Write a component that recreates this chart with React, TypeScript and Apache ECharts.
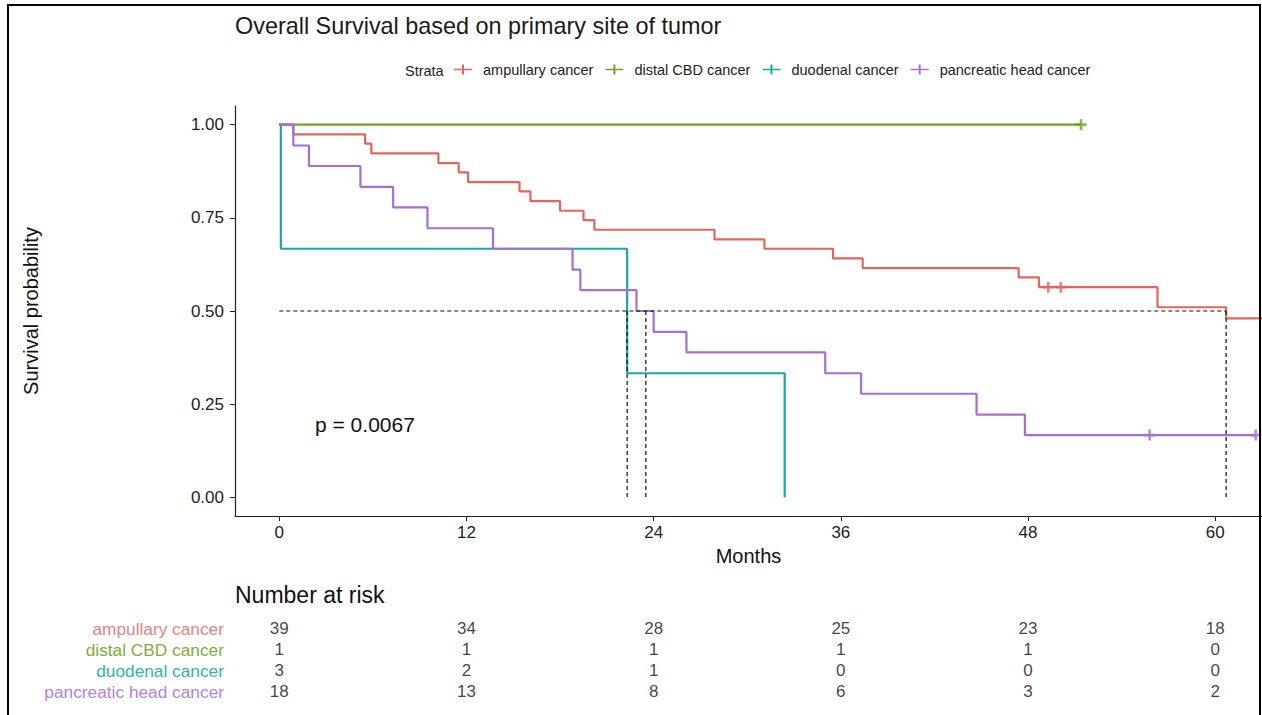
import React, { useEffect, useRef } from "react";
import * as echarts from "echarts";

const FONT = "'Liberation Sans', Arial, sans-serif";

const strataNames = ["ampullary cancer", "distal CBD cancer", "duodenal cancer", "pancreatic head cancer"];
const lineColors = ["#E4655C", "#6FA22A", "#1AA8A5", "#A66FD0"];
const labelColors = ["#E3857C", "#83AC3C", "#33B2AF", "#B483DA"];

// Kaplan-Meier step points (time in months, survival probability)
const ampullaryTimes = [0, 0.9, 5.5, 5.9, 10.2, 11.5, 12.1, 15.4, 16.1, 18.0, 19.5, 20.2, 27.9, 31.1, 35.5, 37.4, 47.4, 48.7, 56.3, 60.7, 63.0];
const ampullarySurv = [1, 0.974, 0.949, 0.923, 0.897, 0.872, 0.846, 0.821, 0.795, 0.769, 0.744, 0.718, 0.692, 0.667, 0.641, 0.615, 0.59, 0.564, 0.51, 0.48, 0.48];
const distalTimes = [0, 51.4];
const distalSurv = [1, 1];
const duodenalTimes = [0, 0.1, 22.3, 32.4];
const duodenalSurv = [1, 0.667, 0.333, 0];
const pancreaticTimes = [0, 0.9, 1.9, 5.2, 7.3, 9.5, 13.7, 18.8, 19.3, 22.9, 24.0, 26.1, 35.0, 37.3, 44.7, 47.8, 62.6];
const pancreaticSurv = [1, 0.944, 0.889, 0.833, 0.778, 0.722, 0.667, 0.611, 0.556, 0.5, 0.444, 0.389, 0.333, 0.278, 0.222, 0.167, 0.167];

// censoring marks
const ampullaryCensorTimes = [49.3, 50.1];
const ampullaryCensorSurv = [0.564, 0.564];
const distalCensorTimes = [51.4];
const distalCensorSurv = [1];
const duodenalCensorTimes: number[] = [];
const duodenalCensorSurv: number[] = [];
const pancreaticCensorTimes = [55.8, 62.6];
const pancreaticCensorSurv = [0.167, 0.167];

// median survival times
const medianTimes = [22.3, 23.5, 60.7];
const medianLevel = 0.5;

// number at risk
const riskTimes = [0, 12, 24, 36, 48, 60];
const ampullaryRisk = [39, 34, 28, 25, 23, 18];
const distalRisk = [1, 1, 1, 1, 1, 0];
const duodenalRisk = [3, 2, 1, 0, 0, 0];
const pancreaticRisk = [18, 13, 8, 6, 3, 2];

const xTicks = [0, 12, 24, 36, 48, 60];
const yTicks = [0, 0.25, 0.5, 0.75, 1];
const pValueText = "p = 0.0067";

const X_MIN = -2.84;
const X_MAX = 63.0;

const PLUS = "path://M0,3.8h10v2.4h-10z M3.8,0h2.4v10h-2.4z";
const LEGEND_ICON = "path://M0,4.2h18v1.6h-18z M8,0h2v10h-2z";

export default function App() {
  const ref = useRef<HTMLDivElement>(null);

  useEffect(() => {
    if (!ref.current) return;
    const chart = echarts.init(ref.current, undefined, { renderer: "svg" });

    const timesAll = [ampullaryTimes, distalTimes, duodenalTimes, pancreaticTimes];
    const survAll = [ampullarySurv, distalSurv, duodenalSurv, pancreaticSurv];
    const cTimesAll = [ampullaryCensorTimes, distalCensorTimes, duodenalCensorTimes, pancreaticCensorTimes];
    const cSurvAll = [ampullaryCensorSurv, distalCensorSurv, duodenalCensorSurv, pancreaticCensorSurv];
    const riskAll = [ampullaryRisk, distalRisk, duodenalRisk, pancreaticRisk];

    const series: any[] = [];
    strataNames.forEach((name, i) => {
      series.push({
        name,
        type: "line",
        step: "end",
        xAxisIndex: 0,
        yAxisIndex: 0,
        showSymbol: false,
        color: lineColors[i],
        lineStyle: { width: 2.2, color: lineColors[i] },
        data: timesAll[i].map((t, j) => [t, survAll[i][j]]),
        z: 3 + i,
      });
      if (cTimesAll[i].length) {
        series.push({
          name,
          type: "scatter",
          xAxisIndex: 0,
          yAxisIndex: 0,
          symbol: PLUS,
          symbolSize: 11,
          color: lineColors[i],
          itemStyle: { color: lineColors[i] },
          data: cTimesAll[i].map((t, j) => [t, cSurvAll[i][j]]),
          z: 3 + i,
        });
      }
    });

    const dashed = { type: [4, 3], color: "#111", width: 1.2 };
    series.push({
      type: "line",
      xAxisIndex: 0,
      yAxisIndex: 0,
      showSymbol: false,
      lineStyle: dashed,
      data: [[0, medianLevel], [Math.max(...medianTimes), medianLevel]],
      z: 10,
      silent: true,
    });
    medianTimes.forEach((t) => {
      series.push({
        type: "line",
        xAxisIndex: 0,
        yAxisIndex: 0,
        showSymbol: false,
        lineStyle: dashed,
        data: [[t, medianLevel], [t, 0]],
        z: 10,
        silent: true,
      });
    });

    // risk table
    strataNames.forEach((name, i) => {
      series.push({
        type: "scatter",
        xAxisIndex: 1,
        yAxisIndex: 1,
        symbolSize: 1,
        itemStyle: { color: "rgba(0,0,0,0)" },
        silent: true,
        label: {
          show: true,
          position: "inside",
          formatter: (p: any) => String(p.value[2]),
          color: "#111",
          fontSize: 17,
          fontFamily: FONT,
        },
        data: riskTimes.map((t, j) => [t, name, riskAll[i][j]]),
      });
    });

    const rich: any = {};
    strataNames.forEach((_n, i) => {
      rich["c" + i] = { color: labelColors[i], fontSize: 17.3, fontFamily: FONT };
    });

    chart.setOption({
      animation: false,
      backgroundColor: "#fff",
      textStyle: { fontFamily: FONT },
      title: {
        text: "Overall Survival based on primary site of tumor",
        left: 235,
        top: 14,
        padding: 0,
        textStyle: { fontSize: 23.4, fontWeight: "normal", color: "#1a1a1a", fontFamily: FONT },
      },
      legend: {
        left: 454,
        top: 62,
        padding: 0,
        data: strataNames,
        icon: LEGEND_ICON,
        itemWidth: 18,
        itemHeight: 10,
        itemGap: 12,
        textStyle: { fontSize: 14.5, color: "#222", fontFamily: FONT, padding: [0, 0, 0, 6] },
        selectedMode: false,
      },
      grid: [
        { left: 235, right: 0, top: 106, bottom: 199 },
        { left: 235, right: 0, top: 618.5, height: 83.6 },
      ],
      xAxis: [
        {
          type: "value",
          gridIndex: 0,
          min: X_MIN,
          max: X_MAX,
          name: "Months",
          nameLocation: "middle",
          nameGap: 30,
          nameTextStyle: { fontSize: 20, color: "#111", fontFamily: FONT },
          splitLine: { show: false },
          axisLine: { show: true, onZero: false, lineStyle: { color: "#222", width: 1.2 } },
          axisTick: { show: true, length: 5, customValues: xTicks, lineStyle: { color: "#222" } },
          axisLabel: { customValues: xTicks, margin: 8, fontSize: 17, color: "#222", fontFamily: FONT },
        },
        {
          type: "value",
          gridIndex: 1,
          min: X_MIN,
          max: X_MAX,
          show: false,
        },
      ],
      yAxis: [
        {
          type: "value",
          gridIndex: 0,
          min: -0.05,
          max: 1.05,
          name: "Survival probability",
          nameLocation: "middle",
          nameGap: 194,
          nameRotate: 90,
          nameTextStyle: { fontSize: 20, color: "#111", fontFamily: FONT },
          splitLine: { show: false },
          axisLine: { show: true, onZero: false, lineStyle: { color: "#222", width: 1.2 } },
          axisTick: { show: true, length: 5, customValues: yTicks, lineStyle: { color: "#222" } },
          axisLabel: {
            customValues: yTicks,
            margin: 11,
            fontSize: 17,
            color: "#222",
            fontFamily: FONT,
            formatter: (v: number) => v.toFixed(2),
          },
        },
        {
          type: "category",
          gridIndex: 1,
          inverse: true,
          data: strataNames,
          axisLine: { show: false },
          axisTick: { show: false },
          splitLine: { show: false },
          axisLabel: {
            interval: 0,
            margin: 11,
            fontSize: 17.3,
            fontFamily: FONT,
            formatter: (v: string) => `{c${strataNames.indexOf(v)}|${v}}`,
            rich,
          },
        },
      ],
      graphic: [
        {
          type: "text",
          left: 405,
          top: 63,
          style: { text: "Strata", fill: "#222", font: `14.5px ${FONT}` },
        },
        {
          type: "text",
          x: 315,
          y: 424,
          style: { text: pValueText, font: `21px ${FONT}`, fill: "#111", verticalAlign: "middle" },
        },
        {
          type: "text",
          x: 235,
          y: 595,
          style: { text: "Number at risk", font: `23px ${FONT}`, fill: "#111", verticalAlign: "middle" },
        },
        {
          type: "rect",
          shape: { x: 8, y: 5, width: 1252, height: 720 },
          style: { fill: "none", stroke: "#000", lineWidth: 2 },
          z: 100,
          silent: true,
        },
      ],
      series,
    });

    return () => chart.dispose();
  }, []);

  return (
    <div
      ref={ref}
      style={{ position: "fixed", left: 0, top: 0, width: 1262, height: 715, background: "#fff" }}
    />
  );
}
